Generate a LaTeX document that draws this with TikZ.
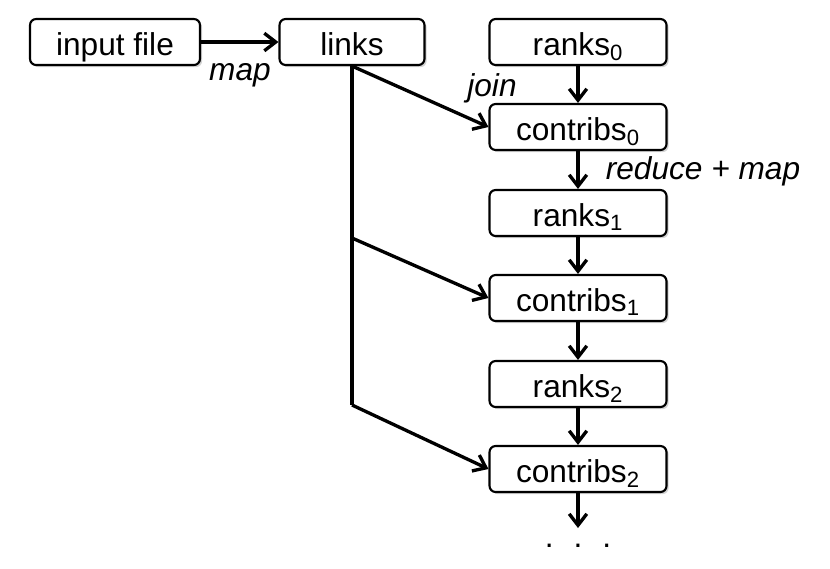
\documentclass[tikz,border=0pt]{standalone}
\usepackage{fontspec}
\setmainfont{Liberation Sans}
\usetikzlibrary{shadows,arrows.meta}

\begin{document}
\begin{tikzpicture}[
  box/.style={
    draw, line width=1.2pt, rectangle, rounded corners=3.5pt, fill=white,
    drop shadow={opacity=0.35, shadow xshift=1.2pt, shadow yshift=-1.2pt},
    minimum height=0.92cm, inner sep=2pt, text height=15pt, text depth=0pt,
    font=\fontsize{18}{21}\selectfont
  },
  chain/.style={box, minimum width=3.54cm},
  arr/.style={->, line width=1.9pt, >={Straight Barb[length=6.5pt,width=10pt]}},
  lbl/.style={font=\fontsize{18}{21}\selectfont\itshape},
]
\useasboundingbox (0,0) rectangle (16.6,-11.36);

\node[box, minimum width=3.4cm] (input) at (2.3, -0.84) {input file};
\node[box, minimum width=2.9cm] (links) at (7.04, -0.84) {links};

\node[chain] (ranks0)    at (11.56, -0.84) {ranks\textsubscript{0}};
\node[chain] (contribs0) at (11.56, -2.54) {contribs\textsubscript{0}};
\node[chain] (ranks1)    at (11.56, -4.26) {ranks\textsubscript{1}};
\node[chain] (contribs1) at (11.56, -5.96) {contribs\textsubscript{1}};
\node[chain] (ranks2)    at (11.56, -7.68) {ranks\textsubscript{2}};
\node[chain] (contribs2) at (11.56, -9.38) {contribs\textsubscript{2}};

\coordinate (split1) at (7.04, -4.76);
\coordinate (split2) at (7.04, -8.10);
\coordinate (more)   at (11.56, -10.56);
\node[font=\fontsize{18}{21}\selectfont, anchor=base] (dots) at (11.56, -10.95) {.\hspace{0.4cm}.\hspace{0.4cm}.};

\node[lbl] (maplbl)    at (4.8, -1.5) {map};
\node[lbl] (joinlbl)   at (9.84, -1.76) {join};
\node[lbl] (reducelbl) at (14.06, -3.42) {reduce + map};

\draw[arr] (input) -- (links);
\draw[arr] (links.south) -- (contribs0.west);
\draw[line width=1.9pt] (links.south) -- (split2);
\draw[arr] (split1) -- (contribs1.west);
\draw[arr] (split2) -- (contribs2.west);

\draw[arr] (ranks0)    -- (contribs0);
\draw[arr] (contribs0) -- (ranks1);
\draw[arr] (ranks1)    -- (contribs1);
\draw[arr] (contribs1) -- (ranks2);
\draw[arr] (ranks2)    -- (contribs2);
\draw[arr] (contribs2) -- (more);

\end{tikzpicture}
\end{document}
